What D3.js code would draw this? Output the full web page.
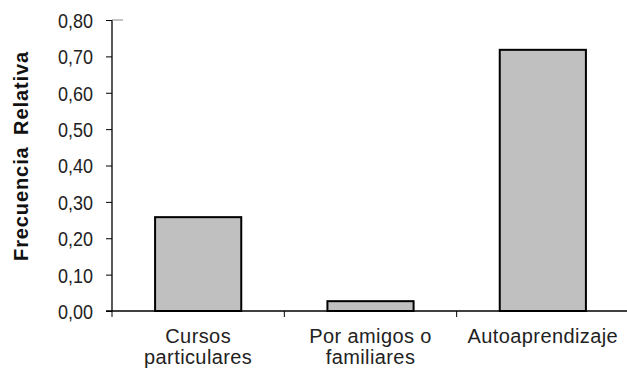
<!DOCTYPE html>
<html><head><meta charset="utf-8">
<script src="https://cdn.jsdelivr.net/npm/d3@7"></script>
<style>body{margin:0;background:#fff}svg{display:block}text{font-family:"Liberation Sans",Arial,sans-serif}</style>
</head><body><svg id="c" width="627" height="372"></svg>
<script>
const categories = [["Cursos","particulares"],["Por amigos o","familiares"],["Autoaprendizaje"]];
const values = [0.258, 0.027, 0.718];
const yTicks = [0,0.1,0.2,0.3,0.4,0.5,0.6,0.7,0.8];
const yTitle = "Frecuencia Relativa";

(function(){
const svg = d3.select("#c");
const mL = 112, mR = 629, mT = 20, mB = 311;
const x = d3.scaleBand().domain(d3.range(categories.length)).range([mL, mR]).paddingInner(0).paddingOuter(0);
const y = d3.scaleLinear().domain([0,0.8]).range([mB, mT]);

const bw = x.bandwidth()*0.5;
svg.selectAll("rect.bar").data(values).enter().append("rect")
  .attr("x",(d,i)=>x(i)+x.bandwidth()/2-bw/2)
  .attr("y",d=>y(d))
  .attr("width",bw)
  .attr("height",d=>y(0)-y(d))
  .attr("fill","#c0c0c0").attr("stroke","#000").attr("stroke-width",2);

const ya = svg.append("g").attr("transform",`translate(${mL},0)`)
  .call(d3.axisLeft(y).tickValues(yTicks).tickSize(6).tickFormat(d=>d3.format(".2f")(d).replace(".",",")));
ya.attr("font-size",null).attr("font-family",null);
ya.select(".domain").attr("stroke","#000").attr("stroke-width",1.3).attr("d",`M0,${mT}V${mB}`);
ya.selectAll(".tick line").attr("stroke","#000");
ya.selectAll(".tick text").attr("font-size",18).attr("fill","#222").attr("x",-19)
  .attr("dy","0.36em").attr("transform","scale(1,1.15)");
svg.append("line").attr("x1",mL).attr("x2",mL+11).attr("y1",mT).attr("y2",mT).attr("stroke","#888");

svg.append("line").attr("x1",mL-6).attr("x2",627).attr("y1",mB).attr("y2",mB).attr("stroke","#000").attr("stroke-width",1.3);
const xt = d3.range(categories.length).map(i=>x(i));
svg.selectAll("line.xt").data(xt).enter().append("line")
  .attr("x1",d=>d).attr("x2",d=>d).attr("y1",mB).attr("y2",mB+6).attr("stroke","#000");

categories.forEach((lines,i)=>{
  const cx = x(i)+x.bandwidth()/2;
  const t = svg.append("text").attr("text-anchor","middle").attr("font-size",20).attr("fill","#222")
    .attr("letter-spacing",0.4).attr("x",cx).attr("y",343);
  lines.forEach((l,j)=>t.append("tspan").attr("x",cx).attr("dy",j===0?0:21).text(l));
});

svg.append("text").attr("transform","translate(28,156) rotate(-90)").attr("text-anchor","middle")
  .attr("font-size",20).attr("font-weight","bold").attr("fill","#111")
  .attr("letter-spacing",0.9).attr("word-spacing",5).text(yTitle);
})();
</script></body></html>
